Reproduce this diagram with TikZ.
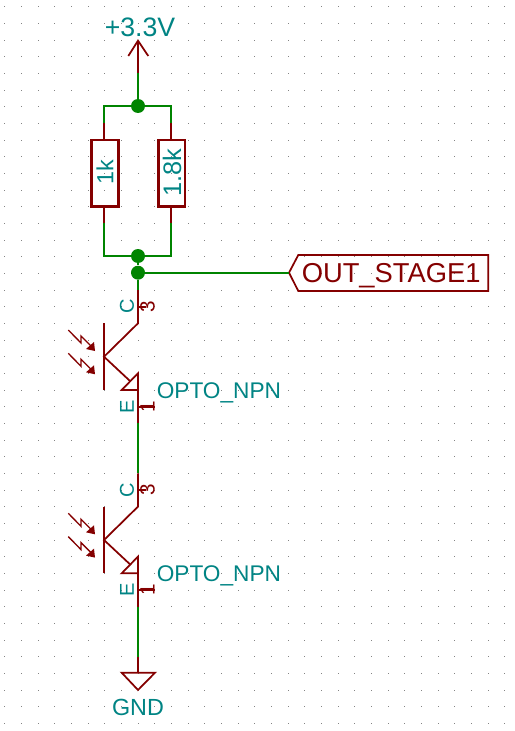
\documentclass[tikz,border=0pt]{standalone}
\usepackage{fontspec}
\setmainfont{Liberation Sans}
\definecolor{wirec}{HTML}{008400}
\definecolor{symc}{HTML}{840000}
\definecolor{txtc}{HTML}{008484}
\definecolor{dotc}{HTML}{848484}
\tikzset{
  wire/.style={draw=wirec,line width=1.3pt},
  sym/.style={draw=symc,line width=1.3pt},
  thickbody/.style={draw=symc,line width=1.9pt},
  junct/.style={circle,fill=wirec,inner sep=0pt,minimum size=10.5pt},
  ttxt/.style={text=txtc,inner sep=0pt,font=\fontsize{17.5pt}{20pt}\selectfont},
  pintxt/.style={text=txtc,inner sep=0pt,font=\fontsize{15pt}{17pt}\selectfont,rotate=90},
  pinnum/.style={text=symc,inner sep=0pt,font=\fontsize{15.5pt}{17pt}\selectfont,rotate=90},
  lbltxt/.style={text=symc,inner sep=0pt,font=\fontsize{20.5pt}{24pt}\selectfont,anchor=base west},
  lightarrow/.style={sym,line width=1pt},
  lighthead/.style={fill=symc},
}
\begin{document}
\begin{tikzpicture}[x=0.75pt,y=-0.75pt]
\useasboundingbox (0,0) rectangle (514,731);
\fill[white] (0,0) rectangle (514,731);
% grid
\foreach \i in {0,...,30} \foreach \j in {0,...,43}
  \fill[dotc] ({4.7+16.67*\i-0.5},{6.7+16.67*\j-0.5}) rectangle ++(1,1);
% named points
\coordinate (pwrtip) at (138,40.7);
\coordinate (pwrpin) at (138,73);
\node[junct] (jtop) at (138,106) {};
\node[junct] (jbot) at (138,256) {};
\node[junct] (jout) at (138,272.7) {};
\coordinate (rat) at (104,123);
\coordinate (rab) at (104,222.7);
\coordinate (rbt) at (171,123);
\coordinate (rbb) at (171,222.7);
% power symbol
\draw[sym] (pwrpin) -- (pwrtip);
\draw[sym] (128.3,56) -- (pwrtip) -- (148.3,56);
\node[ttxt,font=\fontsize{20pt}{22pt}\selectfont] (pwrtxt) at (140,27) {+3.3V};
% resistors
\draw[thickbody] (91.3,140) rectangle (118.7,206.7);
\draw[thickbody] (158.3,140) rectangle (185,206.7);
\draw[sym] (rat) -- (104,140) (104,206.7) -- (rab);
\draw[sym] (rbt) -- (171,140) (171,206.7) -- (rbb);
\node[ttxt,rotate=90] (r1) at (105,172.5) {1k};
\node[ttxt,rotate=90,font=\fontsize{19pt}{21pt}\selectfont] (r2) at (172,173) {1.8k};
% label
\draw[sym] (289,272.7) -- (298.3,255) -- (488.3,255) -- (488.3,291) -- (298.3,291) -- cycle;
\coordinate (lbl) at (289,272.7);
\node[lbltxt] (outtxt) at (301.5,282.7) {OUT\_STAGE1};
% transistors
\foreach \n/\d in {a/0,b/183.3}{
  \begin{scope}[yshift={-0.75pt*\d}]
    \coordinate (\n c) at (138,290);
    \coordinate (\n e) at (138,423.3);
    \draw[sym] (\n c) -- (138,323.3) -- (104,356.7) -- (130,381);
    \draw[sym] (104,323.3) -- (104,390);
    \draw[sym] (138,373.3) -- (121.7,390) -- (138,390) -- cycle;
    \draw[sym] (138,373.3) -- (\n e);
    \draw[sym] (138,306.7) -- (146,306.7);
    \draw[sym] (138,406.7) -- (155,406.7);
    \node[pintxt] (\n ct) at (127,306.5) {C};
    \node[pintxt] (\n et) at (127,406.7) {E};
    \node[pinnum] (\n cn) at (147.5,306.5) {3};
    \node[pinnum] (\n en) at (147.5,406.7) {1};
    \node[ttxt,anchor=base west,font=\fontsize{17pt}{20pt}\selectfont] (\n name) at (156.5,398.3) {OPTO\_NPN};
    \foreach \o in {0,23.3}{
      \draw[lightarrow] (68.3,330+\o) -- (81,343+\o) -- (81,336+\o) -- (92,347+\o);
      \fill[lighthead] (95,351+\o) -- (94,342+\o) -- (86,349+\o) -- cycle;
    }
  \end{scope}
}
% ground
\coordinate (gndp) at (138,656.7);
\coordinate (gndt) at (138,672.7);
\draw[sym] (gndp) -- (gndt);
\draw[sym] (121.7,672.7) -- (155,672.7) -- (138,690) -- cycle;
\node[ttxt] (gndtxt) at (138,707) {GND};
% wires
\draw[wire] (pwrpin) -- (jtop);
\draw[wire] (rat) -- (104,106) -- (jtop) -- (171,106) -- (rbt);
\draw[wire] (rab) -- (104,256) -- (jbot) -- (171,256) -- (rbb);
\draw[wire] (jbot) -- (jout);
\draw[wire] (jout) -- (lbl);
\draw[wire] (jout) -- (ac);
\draw[wire] (ae) -- (bc);
\draw[wire] (be) -- (gndp);
\end{tikzpicture}
\end{document}
